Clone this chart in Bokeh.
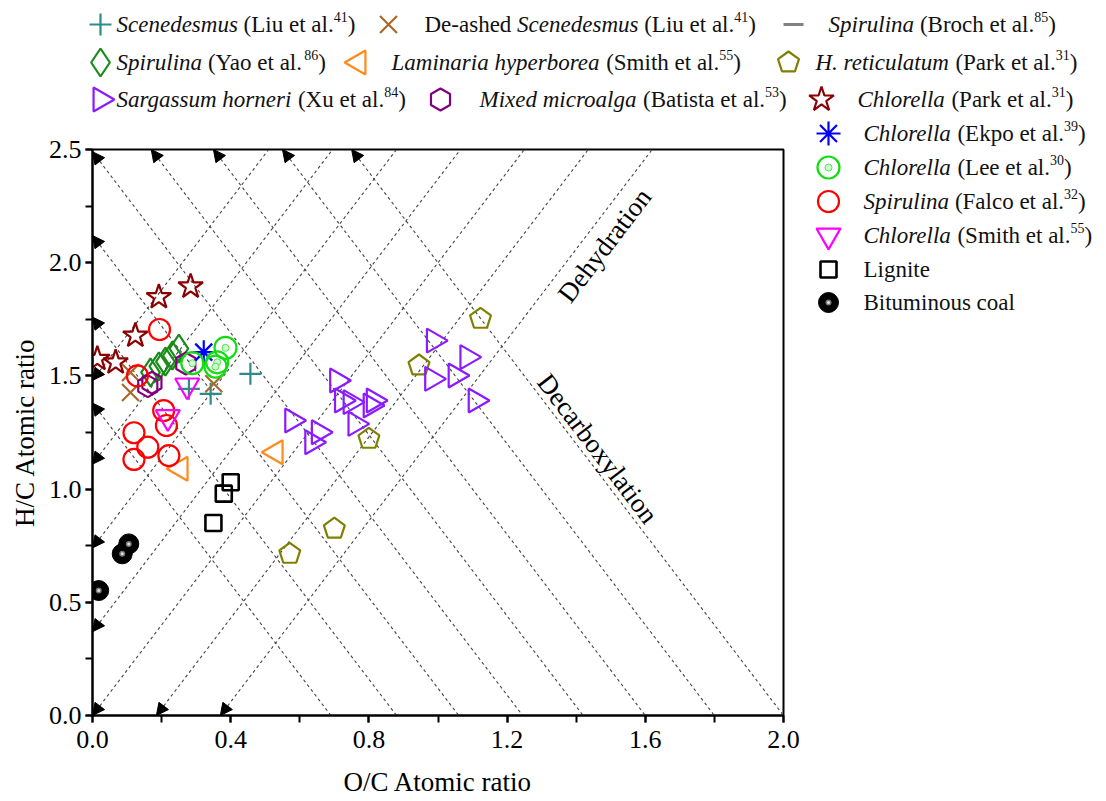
import math
from bokeh.plotting import figure
from bokeh.models import (Range1d, ColumnDataSource, Arrow, NormalHead,
                          SingleIntervalTicker, NumeralTickFormatter)
from bokeh.layouts import column, row
from bokeh.embed import file_html
from bokeh.resources import INLINE
from bokeh.core.properties import value

# ------------------------------------------------------------------ data
scen_oc = [0.457, 0.279, 0.342]
scen_hc = [1.509, 1.443, 1.421]
deash_oc = [0.110, 0.110, 0.351]
deash_hc = [1.515, 1.427, 1.465]
broch_oc = []
broch_hc = []
yao_oc = [0.168, 0.192, 0.211, 0.231, 0.250]
yao_hc = [1.516, 1.542, 1.563, 1.590, 1.620]
lam_oc = [0.255, 0.530]
lam_hc = [1.090, 1.163]
hret_oc = [1.123, 0.945, 0.800, 0.700, 0.571]
hret_hc = [1.752, 1.546, 1.222, 0.825, 0.714]
sarg_oc = [0.988, 1.085, 0.983, 1.051, 1.109, 0.708, 0.722, 0.747, 0.814, 0.805, 0.761, 0.578, 0.655, 0.636]
sarg_hc = [1.656, 1.583, 1.487, 1.502, 1.391, 1.480, 1.391, 1.384, 1.391, 1.369, 1.288, 1.303, 1.251, 1.207]
mixed_oc = [0.160, 0.172, 0.270]
mixed_hc = [1.455, 1.470, 1.555]
park_oc = [0.284, 0.192, 0.124, 0.014, 0.067]
park_hc = [1.895, 1.848, 1.678, 1.575, 1.560]
ekpo_oc = [0.322]
ekpo_hc = [1.605]
lee_oc = [0.385, 0.289, 0.361, 0.356]
lee_hc = [1.624, 1.556, 1.560, 1.541]
falco_oc = [0.194, 0.130, 0.206, 0.214, 0.120, 0.160, 0.120, 0.221]
falco_hc = [1.705, 1.500, 1.347, 1.281, 1.249, 1.185, 1.131, 1.148]
smith_oc = [0.274, 0.218]
smith_hc = [1.458, 1.318]
lignite_oc = [0.350, 0.380, 0.400]
lignite_hc = [0.850, 0.980, 1.030]
bitum_oc = [0.105, 0.086, 0.018]
bitum_hc = [0.758, 0.714, 0.552]

# guide lines: dehydration  H/C = 2*(O/C - a);  decarboxylation  H/C = 2*(b - O/C)
dehyd_offsets = [-0.74, -0.555, -0.37, -0.185, 0.0, 0.185, 0.37]
decarb_intercepts = [0.69, 0.88, 1.06, 1.245, 1.42, 1.60, 1.80, 2.00]

x_ticks_interval = 0.4
y_ticks_interval = 0.5

# legend labels: (text, style)  n=normal, i=italic, s=superscript
labels = {
    "scen": [("Scenedesmus", "i"), (" (Liu et al.", "n"), ("41", "s"), (")", "n")],
    "deash": [("De-ashed ", "n"), ("Scenedesmus", "i"), (" (Liu et al.", "n"), ("41", "s"), (")", "n")],
    "broch": [("Spirulina", "i"), (" (Broch et al.", "n"), ("85", "s"), (")", "n")],
    "yao": [("Spirulina", "i"), (" (Yao et al.", "n"), ("86", "s"), (")", "n")],
    "lam": [("Laminaria hyperborea", "i"), (" (Smith et al.", "n"), ("55", "s"), (")", "n")],
    "hret": [("H. reticulatum", "i"), (" (Park et al.", "n"), ("31", "s"), (")", "n")],
    "sarg": [("Sargassum horneri", "i"), (" (Xu et al.", "n"), ("84", "s"), (")", "n")],
    "mixed": [("Mixed microalga", "i"), (" (Batista et al.", "n"), ("53", "s"), (")", "n")],
    "park": [("Chlorella", "i"), (" (Park et al.", "n"), ("31", "s"), (")", "n")],
    "ekpo": [("Chlorella", "i"), (" (Ekpo et al.", "n"), ("39", "s"), (")", "n")],
    "lee": [("Chlorella", "i"), (" (Lee et al.", "n"), ("30", "s"), (")", "n")],
    "falco": [("Spirulina", "i"), (" (Falco et al.", "n"), ("32", "s"), (")", "n")],
    "smith": [("Chlorella", "i"), (" (Smith et al.", "n"), ("55", "s"), (")", "n")],
    "lig": [("Lignite", "n")],
    "bit": [("Bituminous coal", "n")],
}
series_data = {
    "scen": (scen_oc, scen_hc), "deash": (deash_oc, deash_hc), "broch": (broch_oc, broch_hc),
    "yao": (yao_oc, yao_hc), "lam": (lam_oc, lam_hc), "hret": (hret_oc, hret_hc),
    "sarg": (sarg_oc, sarg_hc), "mixed": (mixed_oc, mixed_hc), "park": (park_oc, park_hc),
    "ekpo": (ekpo_oc, ekpo_hc), "lee": (lee_oc, lee_hc), "falco": (falco_oc, falco_hc),
    "smith": (smith_oc, smith_hc), "lig": (lignite_oc, lignite_hc), "bit": (bitum_oc, bitum_hc),
}
order = ["scen", "deash", "broch", "yao", "lam", "hret", "sarg", "mixed", "park",
         "ekpo", "lee", "falco", "smith", "lig", "bit"]

FONT = "Liberation Serif"
LW = 2.2

# ------------------------------------------------------------------ markers
def draw_marker(fig, key, xs, ys):
    xs = list(xs); ys = list(ys)
    if key == "scen":
        fig.scatter(xs, ys, marker="cross", size=22, line_color="#2e8b8b", line_width=LW)
    elif key == "deash":
        fig.scatter(xs, ys, marker="x", size=24, line_color="#a86a2c", line_width=LW)
    elif key == "broch":
        fig.scatter(xs, ys, marker="dash", size=20, line_color="#808080", line_width=3)
    elif key == "yao":
        fig.scatter(xs, ys, marker="diamond", size=28, line_color="#1a8c1a", fill_color=None, line_width=LW)
    elif key == "lam":
        fig.scatter(xs, ys, marker="triangle", angle=math.pi / 2, size=24, line_color="#ff8a1a", fill_color=None, line_width=LW)
    elif key == "hret":
        if hasattr(fig, "ngon"):
            fig.ngon(x=xs, y=ys, radius=11, radius_units="screen", n=5, angle=0,
                     line_color="#808000", fill_color=None, line_width=LW)
        else:
            fig.scatter(xs, ys, marker="hex", size=22, line_color="#808000", fill_color=None, line_width=LW)
    elif key == "sarg":
        fig.scatter(xs, ys, marker="triangle", angle=-math.pi / 2, size=24, line_color="#8c1aff", fill_color=None, line_width=LW)
    elif key == "mixed":
        fig.scatter(xs, ys, marker="hex", angle=math.pi / 6, size=22, line_color="#800080", fill_color=None, line_width=LW)
    elif key == "park":
        fig.scatter(xs, ys, marker="star", size=26, line_color="#8b0000", fill_color=None, line_width=LW)
    elif key == "ekpo":
        fig.scatter(xs, ys, marker="asterisk", size=24, line_color="#0000ff", line_width=LW)
    elif key == "lee":
        fig.scatter(xs, ys, marker="circle", size=22, line_color="#11dd11", fill_color=None, line_width=LW)
        fig.scatter(xs, ys, marker="circle", size=7, line_color="#55dd55", fill_color="#ccffcc", line_width=1)
    elif key == "falco":
        fig.scatter(xs, ys, marker="circle", size=21, line_color="#ff0000", fill_color=None, line_width=LW)
    elif key == "smith":
        fig.scatter(xs, ys, marker="inverted_triangle", size=24, line_color="#ff00ff", fill_color=None, line_width=LW)
    elif key == "lig":
        fig.scatter(xs, ys, marker="square", size=16, line_color="black", fill_color=None, line_width=2.6)
    elif key == "bit":
        fig.scatter(xs, ys, marker="circle", size=20, line_color="black", fill_color="black")
        fig.scatter(xs, ys, marker="circle", size=6, line_color=None, fill_color="#777777")
        fig.scatter(xs, ys, marker="circle", size=3, line_color=None, fill_color="#e0e0e0")

# ------------------------------------------------------------------ main plot
BL, BR, BT, BB = 92, 17, 29, 86
p = figure(width=800, height=681, x_range=Range1d(0, 2.0), y_range=Range1d(0, 2.5),
           output_backend="svg", toolbar_location=None,
           min_border_left=BL, min_border_right=BR, min_border_top=BT, min_border_bottom=BB)
p.grid.visible = False
p.background_fill_color = "white"
p.border_fill_color = "white"
p.outline_line_color = "black"
p.outline_line_width = 2
p.outline_line_alpha = 1

p.xaxis.ticker = SingleIntervalTicker(interval=x_ticks_interval, num_minor_ticks=2)
p.yaxis.ticker = SingleIntervalTicker(interval=y_ticks_interval, num_minor_ticks=2)
for ax in (p.xaxis[0], p.yaxis[0]):
    ax.formatter = NumeralTickFormatter(format="0.0")
    ax.axis_line_width = 2
    ax.axis_line_color = "black"
    ax.major_tick_line_width = 2
    ax.minor_tick_line_width = 2
    ax.major_tick_line_color = "black"
    ax.minor_tick_line_color = "black"
    ax.major_tick_in = 0
    ax.minor_tick_in = 0
    ax.major_tick_out = 7
    ax.minor_tick_out = 7
    ax.major_label_text_font = FONT
    ax.major_label_text_font_size = "26px"
    ax.major_label_text_color = "black"
    ax.axis_label_text_font = FONT
    ax.axis_label_text_font_size = "27px"
    ax.axis_label_text_font_style = "normal"
    ax.axis_label_text_color = "black"
p.xaxis.axis_label = "O/C Atomic ratio"
p.yaxis.axis_label = "H/C Atomic ratio"
p.xaxis.major_label_standoff = 8
p.xaxis.axis_label_standoff = 16
p.yaxis.major_label_standoff = 4
p.yaxis.axis_label_standoff = 6

# guide lines
YMAX = 2.5
lx0, ly0, lx1, ly1 = [], [], [], []
ax0, ay0, ax1, ay1 = [], [], [], []
for a in dehyd_offsets:
    if a < 0:
        sx, sy = 0.0, -2 * a
    else:
        sx, sy = a, 0.0
    ex, ey = a + YMAX / 2, YMAX
    lx0.append(sx); ly0.append(sy); lx1.append(ex); ly1.append(ey)
    ax0.append(sx + 0.05); ay0.append(sy + 0.10); ax1.append(sx); ay1.append(sy)
for b in decarb_intercepts:
    if 2 * b <= YMAX:
        sx, sy = 0.0, 2 * b
    else:
        sx, sy = b - YMAX / 2, YMAX
    ex, ey = b, 0.0
    lx0.append(sx); ly0.append(sy); lx1.append(ex); ly1.append(ey)
    ax0.append(sx + 0.05); ay0.append(sy - 0.10); ax1.append(sx); ay1.append(sy)

p.segment(x0=lx0, y0=ly0, x1=lx1, y1=ly1, line_color="#444444", line_width=1.1, line_dash="3 3")
arrow_src = ColumnDataSource(dict(x0=ax0, y0=ay0, x1=ax1, y1=ay1))
p.add_layout(Arrow(end=NormalHead(size=12, fill_color="black", line_color="black", line_width=1),
                   x_start="x0", y_start="y0", x_end="x1", y_end="y1",
                   source=arrow_src, line_alpha=0))

slope_angle = math.atan(2 * (566 / 2.5) / (691 / 2.0))
p.text(x=[1.482], y=[2.076], text=["Dehydration"], angle=slope_angle,
       text_font=value(FONT), text_font_size="27px", text_color="black",
       text_align="center", text_baseline="middle")
p.text(x=[1.462], y=[1.179], text=["Decarboxylation"], angle=-slope_angle,
       text_font=value(FONT), text_font_size="27px", text_color="black",
       text_align="center", text_baseline="middle")

for k in order:
    xs, ys = series_data[k]
    if len(xs):
        draw_marker(p, k, xs, ys)

# ------------------------------------------------------------------ legend text layout
ROMAN = {' ': 250, '(': 333, ')': 333, '.': 250, '-': 333}
ITALIC = {' ': 250, '(': 333, ')': 333, '.': 250, '-': 333}
for d in "0123456789":
    ROMAN[d] = 500; ITALIC[d] = 500
for c, w in zip("ABCDEFGHIJKLMNOPQRSTUVWXYZ",
                [722, 667, 667, 722, 611, 556, 722, 722, 333, 389, 722, 611, 889, 722, 722, 556, 722, 667, 556, 611, 722, 722, 944, 722, 722, 611]):
    ROMAN[c] = w
for c, w in zip("abcdefghijklmnopqrstuvwxyz",
                [444, 500, 444, 500, 444, 333, 500, 500, 278, 278, 500, 278, 778, 500, 500, 500, 500, 333, 389, 278, 500, 500, 722, 500, 500, 444]):
    ROMAN[c] = w
for c, w in zip("ABCDEFGHIJKLMNOPQRSTUVWXYZ",
                [611, 611, 667, 722, 611, 611, 722, 722, 333, 444, 667, 556, 833, 667, 722, 611, 722, 611, 500, 556, 722, 611, 833, 611, 556, 556]):
    ITALIC[c] = w
for c, w in zip("abcdefghijklmnopqrstuvwxyz",
                [500, 500, 444, 500, 444, 278, 500, 500, 278, 278, 444, 278, 722, 500, 500, 500, 500, 389, 389, 278, 500, 444, 667, 444, 444, 389]):
    ITALIC[c] = w

LEG_SIZE = 23
SUP_SIZE = 14


def text_w(t, table, size):
    return sum(table.get(c, 500) for c in t) / 1000.0 * size


def draw_legend(fig, entries):
    cols = {"n": dict(x=[], y=[], t=[]), "i": dict(x=[], y=[], t=[]), "s": dict(x=[], y=[], t=[])}
    for key, mx, tx, y in entries:
        draw_marker(fig, key, [mx], [y])
        x = tx
        for t, st in labels[key]:
            size = SUP_SIZE if st == "s" else LEG_SIZE
            table = ITALIC if st == "i" else ROMAN
            lead = len(t) - len(t.lstrip(" "))
            x += text_w(" " * lead, table, size)
            core = t.strip(" ")
            yy = y - 8 if st == "s" else y
            cols[st]["x"].append(x); cols[st]["y"].append(yy); cols[st]["t"].append(core)
            x += text_w(t.lstrip(" "), table, size)
    for st, size, style in (("n", LEG_SIZE, "normal"), ("i", LEG_SIZE, "italic"), ("s", SUP_SIZE, "normal")):
        c = cols[st]
        if c["x"]:
            fig.text(x=c["x"], y=c["y"], text=c["t"], text_font=value(FONT),
                     text_font_size=f"{size}px", text_font_style=style, text_color="#111111",
                     text_align="left", text_baseline="middle")


def blank_fig(w, h, xr, yr, bt=0, bb=0):
    f = figure(width=w, height=h, x_range=Range1d(*xr), y_range=Range1d(*yr),
               output_backend="svg", toolbar_location=None,
               x_axis_type=None, y_axis_type=None,
               min_border=0, min_border_left=0, min_border_right=0,
               min_border_top=bt, min_border_bottom=bb)
    f.grid.visible = False
    f.outline_line_color = None
    f.background_fill_color = "white"
    f.border_fill_color = "white"
    return f


top = blank_fig(1106, 120, (0, 1106), (120, 0))
top_entries = [
    ("scen", 100, 116, 24), ("deash", 388, 424, 24), ("broch", 793, 828, 24),
    ("yao", 100, 116, 62), ("lam", 358, 391, 62), ("hret", 788, 815, 62),
    ("sarg", 100, 116, 99), ("mixed", 440, 479, 99), ("park", 821, 857, 99),
]
draw_legend(top, top_entries)

# right legend in page coordinates (x 800..1106, y 120..801)
right = blank_fig(306, 681, (800, 1106), (801, 120))
try:
    p.frame_align = False
    right.frame_align = False
    top.frame_align = False
except Exception:
    right.y_range = Range1d(120 + BT + 566, 120 + BT)
    right.min_border_top = BT
    right.min_border_bottom = BB

right_entries = [
    ("ekpo", 828, 863, 133), ("lee", 828, 863, 167), ("falco", 828, 863, 201),
    ("smith", 828, 863, 235), ("lig", 828, 863, 269), ("bit", 828, 863, 302),
]
draw_legend(right, right_entries)

layout = column(top, row(p, right, spacing=0), spacing=0)
open("out.html", "w").write(file_html(layout, INLINE))
